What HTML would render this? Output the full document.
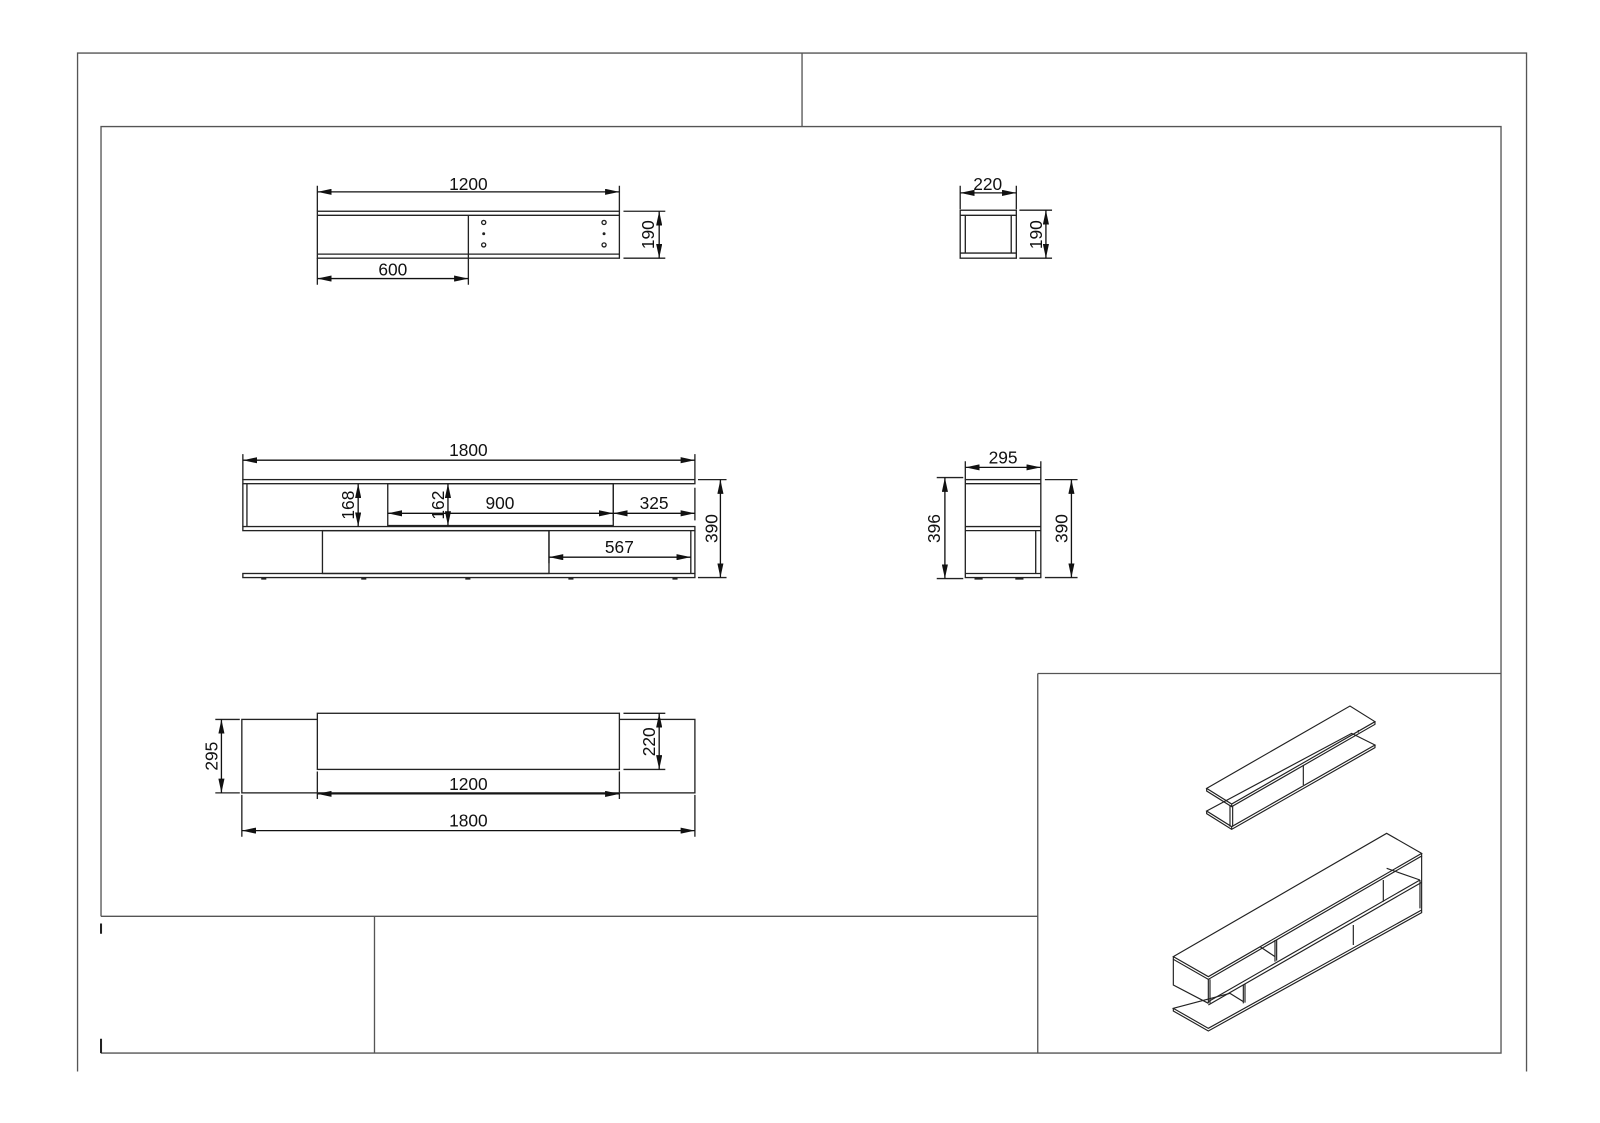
<!DOCTYPE html>
<html><head><meta charset="utf-8"><style>
html,body{margin:0;padding:0;background:#fff;}
svg{display:block}
text{font-family:"Liberation Sans",sans-serif;font-size:17px;fill:#111;}
</style></head><body>
<svg width="1600" height="1123" viewBox="0 0 1568 1100.5" xmlns="http://www.w3.org/2000/svg">
<defs>
<marker id="a" viewBox="0 0 14 6" refX="14" refY="3" markerWidth="14" markerHeight="6" orient="auto-start-reverse" markerUnits="userSpaceOnUse"><path d="M0,0 L14,3 L0,6 z" fill="#111"/></marker>
</defs>
<g fill="none" stroke="#555" stroke-width="1.3">
<path d="M76,1050 V52 H1496 V1050"/>
<path d="M786,52 V124"/>
<path d="M99,898 V124 H1471 V1032 H99"/>
<path d="M99,905 V915 M99,1018 V1032" stroke="#222" stroke-width="2"/>
<path d="M99,898 H1017"/>
<path d="M367,898 V1032"/>
<path d="M1017,660 H1471 M1017,660 V1032"/>
</g>
<g fill="none" stroke="#222" stroke-width="1.3">
<!-- top view small -->
<rect x="311" y="207" width="296" height="46"/>
<path d="M311,211 H607 M311,249 H607 M459,211 V279"/>
<circle cx="474" cy="218" r="2"/><circle cx="474" cy="240" r="2"/>
<circle cx="592" cy="218" r="2"/><circle cx="592" cy="240" r="2"/>
<circle cx="474" cy="229" r="0.8" fill="#222"/><circle cx="592" cy="229" r="0.8" fill="#222"/>
<path d="M311,182 V207 M607,182 V207 M311,253 V279 M611,207 H652 M611,253 H652"/>
<!-- small side -->
<rect x="941" y="206" width="55" height="47"/>
<path d="M946,211 V248 M991,211 V248 M941,211 H996 M941,248 H996"/>
<path d="M941,182 V205 M996,182 V205 M999,206 H1031 M999,253 H1031"/>
<!-- front view -->
<rect x="238" y="470" width="443" height="4"/>
<path d="M238,474 V516 M242,474 V516"/>
<rect x="380" y="474" width="221" height="41"/>
<rect x="238" y="516" width="443" height="4"/>
<rect x="316" y="520" width="222" height="42"/>
<path d="M677,520 V562 M681,520 V562"/>
<rect x="238" y="562" width="443" height="4"/>
<path d="M256,567 h5 M354,567 h5 M456,567 h5 M557,567 h5 M659,567 h5" stroke-width="2"/>
<path d="M238,445 V470 M681,445 V470 M684,470 H712 M684,566 H712 M601,474 V510 M681,478 V510 M538,520 V552"/>
<!-- side view -->
<rect x="946" y="470" width="74" height="96"/>
<path d="M946,474 H1020 M946,516 H1020 M946,520 H1020 M1015,520 V562 M946,562 H1020"/>
<path d="M955,567 h8 M995,567 h8" stroke-width="2"/>
<path d="M946,452 V470 M1020,452 V470 M918,468 H944 M918,567 H944 M1024,470 H1056 M1024,566 H1056"/>
<!-- plan view -->
<rect x="237" y="705" width="444" height="72"/>
<rect x="311" y="699" width="296" height="55" fill="#fff"/>
<path d="M211,705 H235 M211,777 H235 M611,699 H652 M611,754 H652 M311,756 V783 M607,756 V783 M237,779 V820 M681,779 V820"/>
</g>
<g stroke="#111" stroke-width="1.3" marker-start="url(#a)" marker-end="url(#a)">
<line x1="311" y1="188" x2="607" y2="188"/>
<line x1="311" y1="273" x2="459" y2="273"/>
<line x1="646" y1="207" x2="646" y2="253"/>
<line x1="941" y1="189" x2="996" y2="189"/>
<line x1="1025" y1="206" x2="1025" y2="253"/>
<line x1="238" y1="451" x2="681" y2="451"/>
<line x1="351" y1="474" x2="351" y2="516"/>
<line x1="439" y1="474" x2="439" y2="515"/>
<line x1="380" y1="503" x2="601" y2="503"/>
<line x1="601" y1="503" x2="681" y2="503"/>
<line x1="538" y1="546" x2="677" y2="546"/>
<line x1="706" y1="470" x2="706" y2="566"/>
<line x1="946" y1="458" x2="1020" y2="458"/>
<line x1="926" y1="468" x2="926" y2="567"/>
<line x1="1050" y1="470" x2="1050" y2="566"/>
<line x1="217" y1="705" x2="217" y2="777"/>
<line x1="646" y1="699" x2="646" y2="754"/>
<line x1="311" y1="778" x2="607" y2="778"/>
<line x1="237" y1="814" x2="681" y2="814"/>
</g>
<g text-anchor="middle">
<text x="459" y="186">1200</text>
<text x="385" y="270">600</text>
<text transform="translate(641,230) rotate(-90)">190</text>
<text x="968" y="186">220</text>
<text transform="translate(1021,230) rotate(-90)">190</text>
<text x="459" y="447">1800</text>
<text transform="translate(347,495) rotate(-90)">168</text>
<text transform="translate(435,495) rotate(-90)">162</text>
<text x="490" y="499">900</text>
<text x="641" y="499">325</text>
<text x="607" y="542">567</text>
<text transform="translate(703,518) rotate(-90)">390</text>
<text x="983" y="454">295</text>
<text transform="translate(921,518) rotate(-90)">396</text>
<text transform="translate(1046,518) rotate(-90)">390</text>
<text transform="translate(213,741) rotate(-90)">295</text>
<text transform="translate(642,727) rotate(-90)">220</text>
<text x="459" y="774">1200</text>
<text x="459" y="810">1800</text>
</g>
<g transform="scale(0.98) translate(1150,680) scale(0.3333)" fill="none" stroke="#222" stroke-width="3.5">
<path d="M170,325 L600,78 L675,125 L245,372 Z M170,325 V333 L245,380 L675,133 V125 M245,372 V380"/>
<path d="M170,393 L605,160 L675,195 L245,440 Z M170,393 V401 L245,448 L675,203 V195 M245,440 V448"/>
<path d="M240,375 V440 M248,378 V440 M460,255 V315 M625,158 V150"/>
<path d="M70,830 L710,460 L815,520 L175,890 Z M70,830 V838 L175,898 L815,528 V520"/>
<path d="M70,838 V915 L175,970 M175,898 V970 M180,898 V970"/>
<path d="M175,965 L810,600 M175,975 L815,607 M815,528 V690 M810,600 V685"/>
<path d="M240,940 L70,985 L175,1045 L815,690 M70,985 V993 L175,1053 L815,698 V690"/>
<path d="M375,780 V845 M380,780 V842 M610,735 V795 M700,600 V665 M280,915 V970 M285,912 V968 M330,800 L375,830 M240,940 L280,965 M710,565 L810,600"/>
</g>
</svg>
</body></html>
